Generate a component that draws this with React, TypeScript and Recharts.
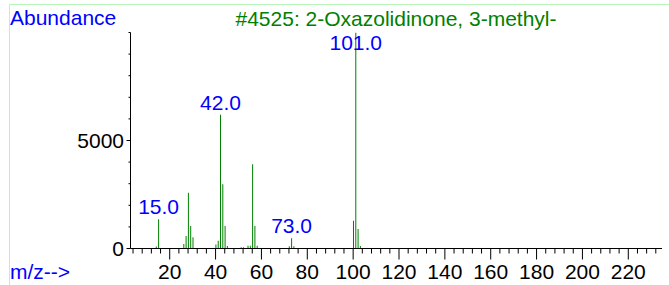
import { BarChart, Bar, XAxis, YAxis, LabelList } from 'recharts';

// mass spectrum peaks (m/z and abundance)
const mz = [14, 15, 26, 27, 28, 29, 30, 40, 41, 42, 43, 44, 45, 51, 52, 54, 55, 56, 57, 58, 72, 73, 74, 100, 101, 102, 103];
const abundance = [90, 1350, 210, 580, 2580, 1040, 520, 190, 360, 6190, 2970, 1040, 115, 60, 60, 130, 130, 3900, 1040, 130, 100, 470, 100, 1290, 10000, 900, 115];
const labelledPeaks = [15, 42, 73, 101];

const xMajorTicks = [20, 40, 60, 80, 100, 120, 140, 160, 180, 200, 220];
const yTicks = [0, 1000, 2000, 3000, 4000, 5000, 6000, 7000, 8000, 9000, 10000];
const yLabelledTicks = [0, 5000];

const title = '#4525: 2-Oxazolidinone, 3-methyl-';

const data = mz.map((m, i) => ({ mz: m, abundance: abundance[i] }));
const xTicks: number[] = [];
for (let t = 4; t <= 232; t += 4) xTicks.push(t);

const FONT = '"Liberation Sans", Arial, sans-serif';

const XTick = (props: any) => {
  const { x, y, payload } = props;
  const major = xMajorTicks.includes(payload.value);
  return (
    <g>
      <line x1={x} x2={x} y1={y} y2={y + (major ? 11 : 5)} stroke="#000" />
      {major && (
        <text x={x} y={y + 30.5} textAnchor="middle" fontSize={21} fontFamily={FONT} fill="#000">
          {payload.value}
        </text>
      )}
    </g>
  );
};

const YTick = (props: any) => {
  const { x, y, payload } = props;
  const major = yLabelledTicks.includes(payload.value);
  return (
    <g>
      <line x1={x - (major ? 4 : 2)} x2={x} y1={y} y2={y} stroke="#000" />
      {major && (
        <text x={x - 6.5} y={y + 7} textAnchor="end" fontSize={21} fontFamily={FONT} fill="#000">
          {payload.value}
        </text>
      )}
    </g>
  );
};

const PeakLabel = (props: any) => {
  const { x, y, width, value } = props;
  if (!labelledPeaks.includes(value)) return null;
  return (
    <text
      x={Number(x) + Number(width) / 2}
      y={Math.max(Number(y) - 5, 50)}
      textAnchor="middle"
      fontSize={21}
      fontFamily={FONT}
      fill="#0000ff"
    >
      {value.toFixed(1)}
    </text>
  );
};

export default function App() {
  return (
    <div style={{ position: 'absolute', left: 0, top: 0, width: 669, height: 285, background: '#fff' }}>
      <BarChart width={669} height={285} data={data} margin={{ top: 32.5, right: 7, bottom: 0, left: 0 }} barSize={1}>
        <XAxis
          dataKey="mz"
          type="number"
          domain={[2.9, 234.7]}
          allowDataOverflow
          ticks={xTicks}
          interval={0}
          height={36.5}
          tickSize={0}
          tickMargin={0}
          tickLine={false}
          axisLine={{ stroke: '#000' }}
          tick={<XTick />}
        />
        <YAxis
          type="number"
          domain={[0, 10000]}
          allowDataOverflow
          ticks={yTicks}
          interval={0}
          width={130.5}
          tickSize={0}
          tickMargin={0}
          tickLine={false}
          axisLine={{ stroke: '#000' }}
          tick={<YTick />}
        />
        <Bar dataKey="abundance" fill="#008000" isAnimationActive={false}>
          <LabelList dataKey="mz" content={<PeakLabel />} />
        </Bar>
      </BarChart>
      <svg width={669} height={285} style={{ position: 'absolute', left: 0, top: 0, pointerEvents: 'none' }}>
        <line x1={9.5} x2={669} y1={4.5} y2={4.5} stroke="#b8f5b8" />
        <line x1={9.5} x2={9.5} y1={4.5} y2={285} stroke="#b8f5b8" />
        <text x={10} y={25} fontSize={21} fontFamily={FONT} fill="#0000ff">Abundance</text>
        <text x={396} y={26} textAnchor="middle" fontSize={21} fontFamily={FONT} fill="#008000">{title}</text>
        <text x={10} y={279} fontSize={21} fontFamily={FONT} fill="#0000ff">m/z--&gt;</text>
      </svg>
    </div>
  );
}
